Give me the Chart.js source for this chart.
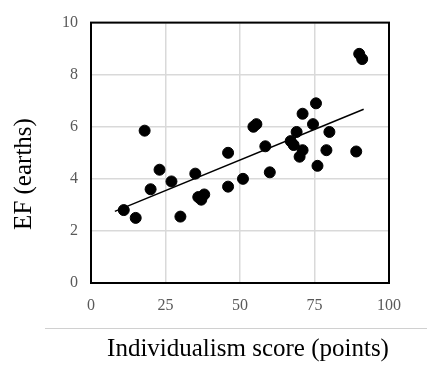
<!DOCTYPE html>
<html>
<head>
<meta charset="utf-8">
<script src="https://cdn.jsdelivr.net/npm/chart.js@4"></script>
<style>
  body { margin: 0; background: #fff; }
  #wrap { width: 427px; height: 378px; position: relative; }
</style>
</head>
<body>
<div id="wrap"><canvas id="myChart" width="427" height="378"></canvas></div>
<script>
// individualism score vs ecological footprint
var scoreX = [11, 15, 18, 20, 23, 27, 30, 35, 36, 37, 38, 46, 46, 51, 54.5, 55.5,
              58.5, 60, 67, 68, 69, 70, 71, 71, 74.5, 75.5, 76, 79, 80, 89, 90, 91]
var efY = [2.8, 2.5, 5.85, 3.6, 4.35, 3.9, 2.55, 4.2, 3.3, 3.2, 3.4, 5.0, 3.7, 4.0, 6.0, 6.1,
           5.25, 4.25, 5.45, 5.3, 5.8, 4.85, 5.1, 6.5, 6.1, 6.9, 4.5, 5.1, 5.8, 5.05, 8.8, 8.6]
var trendX = [8, 91.5]
var trendY = [2.75, 6.67]
var xTicks = [0, 25, 50, 75, 100]
var yTicks = [0, 2, 4, 6, 8, 10]

var points = []
for (var i = 0; i < scoreX.length; i++) {
    points.push({x: scoreX[i], y: efY[i]})
}
var trend = []
for (var j = 0; j < trendX.length; j++) {
    trend.push({x: trendX[j], y: trendY[j]})
}

var serif = "'Liberation Serif', 'Times New Roman', serif"

// box round the plot, separator line and the two axis titles
var extras = {
    id: 'extras',
    beforeDatasetsDraw: function(chart) {
        var ctx = chart.ctx, a = chart.chartArea
        ctx.save()
        ctx.strokeStyle = '#000'
        ctx.lineWidth = 2
        ctx.strokeRect(a.left, a.top, a.right - a.left, a.bottom - a.top)
        ctx.restore()
    },
    afterDraw: function(chart) {
        var ctx = chart.ctx
        ctx.save()
        ctx.strokeStyle = '#d0d0d0'
        ctx.lineWidth = 1
        ctx.beginPath()
        ctx.moveTo(45, 328.5)
        ctx.lineTo(427, 328.5)
        ctx.stroke()

        ctx.fillStyle = '#000'
        ctx.font = '25px ' + serif
        ctx.textAlign = 'center'
        ctx.textBaseline = 'middle'
        ctx.fillText('Individualism score (points)', 248, 349)

        ctx.translate(24, 174)
        ctx.rotate(-Math.PI / 2)
        ctx.fillText('EF (earths)', 0, 0)
        ctx.restore()
    }
}

var ctx = document.getElementById('myChart').getContext('2d')
var chart = new Chart(ctx, {
    type: 'scatter',
    data: {
        datasets: [{
            label: 'Countries',
            data: points,
            backgroundColor: '#000',
            borderColor: '#000',
            pointRadius: 5.5,
            pointHoverRadius: 5.5
        }, {
            label: 'Trend',
            data: trend,
            showLine: true,
            borderColor: '#000',
            borderWidth: 1.5,
            pointRadius: 0
        }]
    },
    options: {
        responsive: false,
        animation: false,
        layout: {padding: {left: 0, top: 21, right: 38, bottom: 0}},
        plugins: {legend: {display: false}, tooltip: {enabled: false}},
        scales: {
            x: {
                type: 'linear',
                min: 0, max: 100,
                afterBuildTicks: function(s) { s.ticks = xTicks.map(function(v) { return {value: v} }) },
                afterFit: function(s) { s.height = 95 },
                grid: {color: '#d9d9d9', lineWidth: 1.5, drawTicks: false},
                border: {display: false},
                ticks: {color: '#595959', font: {family: serif, size: 16}, padding: 13, maxRotation: 0}
            },
            y: {
                min: 0, max: 10,
                afterBuildTicks: function(s) { s.ticks = yTicks.map(function(v) { return {value: v} }) },
                afterFit: function(s) { s.width = 91 },
                grid: {color: '#d9d9d9', lineWidth: 1.5, drawTicks: false},
                border: {display: false},
                ticks: {color: '#595959', font: {family: serif, size: 16}, padding: 13}
            }
        }
    },
    plugins: [extras]
})
</script>
</body>
</html>
